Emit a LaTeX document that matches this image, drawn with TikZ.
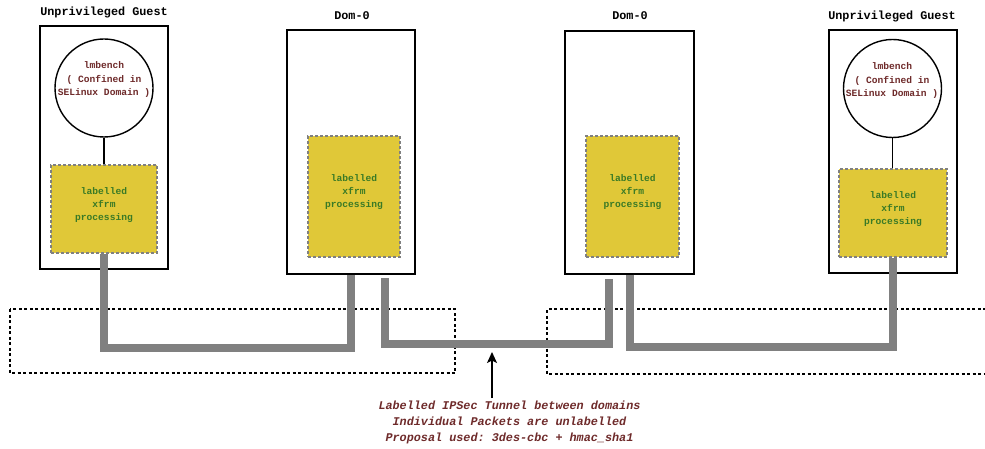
\documentclass[tikz,border=0pt]{standalone}
\usepackage{fontspec}
\setmonofont{Liberation Mono}
\usetikzlibrary{arrows.meta,calc}
\definecolor{xfrmyellow}{RGB}{224,200,56}
\definecolor{xfrmgreen}{RGB}{58,122,38}
\definecolor{notered}{RGB}{110,42,42}
\definecolor{pipegray}{RGB}{128,128,128}

\begin{document}
\begin{tikzpicture}[x=1pt,y=-1pt,
  domainbox/.style={draw=black,line width=1.4pt,fill=white,inner sep=0pt,
    minimum width=128pt,minimum height=244pt},
  domtitle/.style={font=\ttfamily\bfseries\fontsize{11.8}{14}\selectfont,inner sep=0pt},
  xfrmbox/.style={draw=pipegray,line width=1.2pt,dash pattern=on 3pt off 2pt,
    fill=xfrmyellow,inner sep=0pt},
  xfrmtext/.style={text=xfrmgreen,align=center,inner sep=0pt,
    font=\ttfamily\bfseries\fontsize{9.6}{13.4}\selectfont},
  appcircle/.style={draw=black,line width=1.4pt,circle,fill=white,
    minimum size=98pt,inner sep=0pt},
  apptext/.style={text=notered,align=center,inner sep=0pt,
    font=\ttfamily\bfseries\fontsize{9.6}{13.5}\selectfont},
  pipe/.style={draw=pipegray,line width=8pt,line cap=butt,line join=miter},
  zone/.style={draw=black,line width=1.2pt,dash pattern=on 3pt off 2.5pt},
  link/.style={draw=black,line width=1.4pt},
  notetext/.style={text=notered,align=center,inner sep=0pt,
    font=\ttfamily\bfseries\itshape\fontsize{11.8}{16}\selectfont}
]
\useasboundingbox (0,0) rectangle (985,449);

% dotted zones around the tunnel
\draw[zone] (10,309) rectangle (455,373);
\draw[zone] (986,309) -- (547,309) -- (547,374) -- (986,374);

% domains
\node[domainbox,minimum height=243pt] (g1) at (104,147.5) {};
\node[domainbox] (d1) at (351,152) {};
\node[domainbox,minimum width=129pt,minimum height=243pt] (d2) at (629.5,152.5) {};
\node[domainbox,minimum height=243pt] (g2) at (893,151.5) {};

\node[domtitle] (tg1) at (104,12) {Unprivileged Guest};
\node[domtitle] (td1) at (352,16) {Dom-0};
\node[domtitle] (td2) at (630,16) {Dom-0};
\node[domtitle] (tg2) at (892,16) {Unprivileged Guest};

% lmbench processes
\node[appcircle] (c1) at (104,88) {};
\node[apptext] (ct1) at (104,80) {lmbench\\( Confined in\\SELinux Domain )};
\node[appcircle] (c2) at (892.5,88.5) {};
\node[apptext] (ct2) at (892,81) {lmbench\\( Confined in\\SELinux Domain )};

% xfrm processing blocks
\node[xfrmbox,minimum width=106pt,minimum height=88pt] (x1) at (104,209) {};
\node[xfrmbox,minimum width=92pt,minimum height=121pt] (x2) at (354,196.5) {};
\node[xfrmbox,minimum width=93pt,minimum height=121pt] (x3) at (632.5,196.5) {};
\node[xfrmbox,minimum width=108pt,minimum height=88pt] (x4) at (893,213) {};

\node[xfrmtext] (xt1) at (104,205) {labelled\\xfrm\\processing};
\node[xfrmtext] (xt2) at (354,192) {labelled\\xfrm\\processing};
\node[xfrmtext] (xt3) at (632.5,192) {labelled\\xfrm\\processing};
\node[xfrmtext] (xt4) at (893,209) {labelled\\xfrm\\processing};

\draw[link] (c1.south) -- (x1.north);
\draw[link] (c2.south) -- (c2.south |- x4.north);

% network paths
\coordinate (p2a) at (385,278);
\coordinate (p2b) at (609,279);
\draw[pipe] (x1.south) -- ++(0,94.5) -| (d1.south);
\draw[pipe] (p2a) |- (497,344) -| (p2b);
\draw[pipe] (d2.south) |- (800,347) -| (x4.south);

% annotation
\coordinate (atail) at (492,398);
\coordinate (ahead) at (492,352);
\draw[link,-{Stealth[length=11pt,width=10pt,inset=2.5pt]}] (atail) -- (ahead);
\node[notetext] (note) at (509.5,422)
  {Labelled IPSec Tunnel between domains\\Individual Packets are unlabelled\\Proposal used: 3des-cbc + hmac\_sha1};
\end{tikzpicture}
\end{document}
